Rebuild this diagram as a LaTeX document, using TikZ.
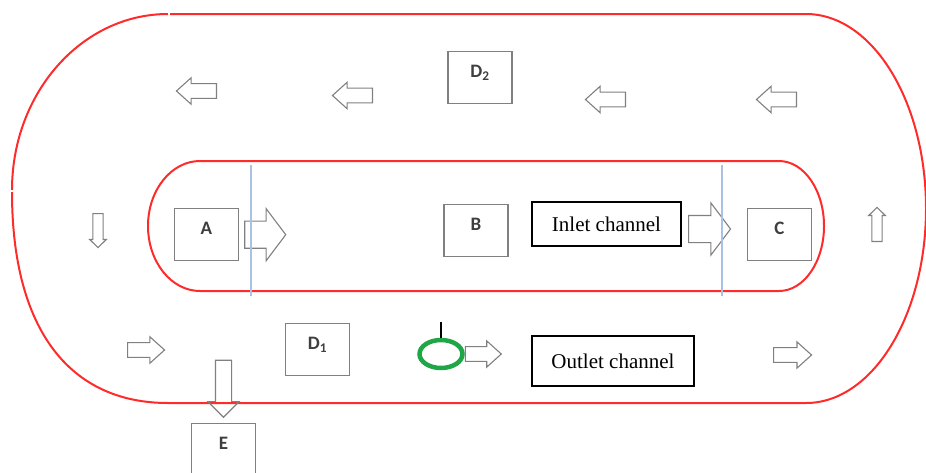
\documentclass[tikz,border=0pt]{standalone}
\usepackage{fontspec}
\setmainfont{Liberation Serif}
\newfontfamily\tagfont{Carlito}
\usetikzlibrary{shapes.arrows,shapes.geometric,positioning}
\definecolor{loop}{HTML}{FF2B2B}
\definecolor{gate}{HTML}{A9C2E2}
\definecolor{frame}{HTML}{808080}
\definecolor{tagink}{HTML}{3F3F3F}
\definecolor{valvegreen}{HTML}{1FA647}
\tikzset{
  track/.style={draw=loop, line width=2pt},
  gateline/.style={draw=gate, line width=2pt},
  unit/.style={draw=frame, line width=1.4pt, minimum width=64pt, inner xsep=0pt, inner ysep=6pt,
    text height=20pt, text depth=20pt, anchor=north, text=tagink, font=\tagfont\bfseries\fontsize{19}{22}\selectfont},
  channel/.style={draw=black, line width=1.8pt, inner sep=0pt, font=\fontsize{21}{24}\selectfont},
  flow/.style={single arrow, draw=frame, line width=1.1pt, anchor=tail},
  lanearrow/.style={flow, inner sep=6.8pt, single arrow head extend=5.8pt, single arrow tip angle=84, minimum height=40pt},
  sidearrow/.style={flow, inner sep=4.6pt, single arrow head extend=3.2pt, single arrow tip angle=92, minimum height=34pt},
  gatearrow/.style={flow, inner sep=13pt, single arrow head extend=12.5pt, single arrow tip angle=106, minimum height=42pt},
  droparrow/.style={flow, inner sep=7.5pt, single arrow head extend=7.5pt, single arrow tip angle=90, minimum height=57pt},
}
\begin{document}
\begin{tikzpicture}[x=1pt, y=-1pt]
\useasboundingbox (0,0) rectangle (926,472);
% outer loop, drawn in pieces
\draw[track] (168,14) arc[start angle=270, end angle=180, x radius=156, y radius=176];
\draw[track] (12,192) .. controls (12,330) and (70,403) .. (168,403);
\draw[track] (170,14) -- (806,14) arc[start angle=-90, end angle=90, x radius=120, y radius=194.5] -- (168,403);
% inner loop
\draw[track] (200,161) -- (779,161) arc[start angle=-90, end angle=90, x radius=45, y radius=65]
  -- (200,291) arc[start angle=90, end angle=270, x radius=52, y radius=65] -- cycle;
% units
\node[unit] (A) at (206.5,208) {A};
\node[unit] (B) at (476,204) {B};
\node[unit] (C) at (779.5,208) {C};
\node[unit] (D2) at (480,51) {D\textsubscript{2}};
\node[unit] (D1) at (317.5,323) {D\textsubscript{1}};
\node[unit] (E) at (223.5,423) {E};
\node[channel, minimum width=149pt, minimum height=44pt] (inlet) at (606.5,224) {Inlet channel};
\node[channel, minimum width=162pt, minimum height=50pt] (outlet) at (613,361) {Outlet channel};
% valve on the outer lane
\node[ellipse, draw=valvegreen, line width=4.5pt, minimum width=43pt, minimum height=28pt, inner sep=0pt] (valve) at (441,354) {};
\coordinate (stem) at (441,322);
\draw[line width=1.2pt] (stem) -- (valve.north);
% flow arrows
\foreach \x/\y [count=\i] in {217/91, 373/95.5, 626/99.5, 797/99.5}
  \node[lanearrow, rotate=180] (back\i) at (\x,\y) {};
\node[lanearrow, minimum height=37pt] (fwd1) at (127,350) {};
\node[lanearrow, minimum height=36pt] (fwd2) at (valve.east) {};
\node[lanearrow, minimum height=38pt] (fwd3) at (773,355) {};
\node[sidearrow, rotate=-90] (down) at (98,213) {};
\node[sidearrow, rotate=90] (up) at (877,242) {};
\node[gatearrow, right=5pt of A, anchor=tail, minimum height=41pt] (intoB) {};
\node[gatearrow] (intoC) at (688,229) {};
\node[droparrow, rotate=-90, anchor=tip] (drain) at ([yshift=5pt]E.north) {};
% gates
\draw[gateline] (251,165) -- (251,296);
\draw[gateline] (722,165) -- (722,296);
\end{tikzpicture}
\end{document}
